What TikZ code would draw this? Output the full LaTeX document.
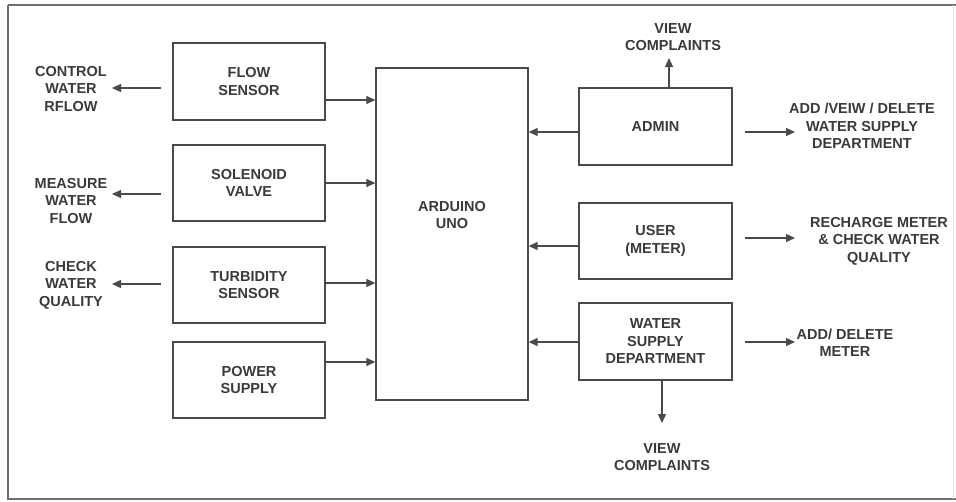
\documentclass[tikz,border=0pt]{standalone}
\usepackage{fontspec}
\setmainfont{Liberation Sans}
\usetikzlibrary{arrows.meta}
\definecolor{ink}{HTML}{3A3A3A}
\definecolor{linec}{HTML}{4A4A4A}
\tikzset{
  blk/.style={draw=linec, line width=1.3pt, minimum width=152pt, minimum height=77pt, inner sep=0pt},
  txt/.style={font=\fontsize{14.5}{17.5}\selectfont\bfseries, text=ink, align=center, inner sep=0pt},
  arr/.style={draw=linec, line width=1.2pt, -{Triangle[length=9pt,width=8pt]}},
}
\begin{document}
\begin{tikzpicture}[x=1pt, y=-1pt]
\useasboundingbox (0,0) rectangle (956,501);
\draw[draw=linec!80, line width=1.5pt] (8,5) -- (956,5);
\draw[draw=linec!80, line width=1.5pt] (8,5) -- (8,499) -- (956,499);
\draw[draw=linec!15, line width=1pt] (953,5) -- (953,499);

% left boxes
\node[blk, txt, minimum width=152pt] (flow) at (249,81.5) {FLOW\\SENSOR};
\node[blk, txt, minimum width=152pt, minimum height=76pt] (sol) at (249,183) {SOLENOID\\VALVE};
\node[blk, txt, minimum width=152pt, minimum height=76pt] (turb) at (249,285) {TURBIDITY\\SENSOR};
\node[blk, txt, minimum width=152pt, minimum height=76pt] (pow) at (249,380) {POWER\\SUPPLY};

% arduino
\node[blk, minimum width=152pt, minimum height=332pt] (ard) at (452,234) {};
\node[txt] (ardtxt) at (452,215) {ARDUINO\\UNO};

% right boxes
\node[blk, txt, minimum width=153pt] (admin) at (655.5,126.5) {ADMIN};
\node[blk, txt, minimum width=153pt, minimum height=76pt] (user) at (655.5,241) {USER\\(METER)};
\node[blk, txt, minimum width=153pt] (wsd) at (655.5,341.5) {WATER\\SUPPLY\\DEPARTMENT};

% helper y levels
\coordinate (y100) at (0,100);
\coordinate (y183) at (0,183);
\coordinate (y283) at (0,283);
\coordinate (y362) at (0,362);
\coordinate (y132) at (0,132);
\coordinate (y246) at (0,246);
\coordinate (y342) at (0,342);

% left boxes -> arduino
\draw[arr] (flow.east |- y100) -- (ard.west |- y100);
\draw[arr] (sol.east |- y183) -- (ard.west |- y183);
\draw[arr] (turb.east |- y283) -- (ard.west |- y283);
\draw[arr] (pow.east |- y362) -- (ard.west |- y362);

% right boxes -> arduino
\draw[arr] (admin.west |- y132) -- (ard.east |- y132);
\draw[arr] (user.west |- y246) -- (ard.east |- y246);
\draw[arr] (wsd.west |- y342) -- (ard.east |- y342);

% left labels
\node[txt] (ctrl) at (71,89) {CONTROL\\WATER\\RFLOW};
\node[txt] (meas) at (71,201) {MEASURE\\WATER\\FLOW};
\node[txt] (chk) at (71,285) {CHECK\\WATER\\QUALITY};
\coordinate (l1s) at (161,88);  \coordinate (l1e) at (112,88);
\coordinate (l2s) at (161,194); \coordinate (l2e) at (112,194);
\coordinate (l3s) at (161,284); \coordinate (l3e) at (112,284);
\draw[arr] (l1s) -- (l1e);
\draw[arr] (l2s) -- (l2e);
\draw[arr] (l3s) -- (l3e);

% admin outputs
\node[txt] (vc1) at (673,37) {VIEW\\COMPLAINTS};
\coordinate (a1s) at (669,88); \coordinate (a1e) at (669,58);
\draw[arr] (admin.north -| a1s) -- (a1e);
\node[txt] (addv) at (862,126) {ADD /VEIW / DELETE\\WATER SUPPLY\\DEPARTMENT};
\coordinate (a2s) at (745,132); \coordinate (a2e) at (795,132);
\draw[arr] (a2s) -- (a2e);

% user output
\node[txt] (rech) at (879,241) {RECHARGE METER\\\&\ CHECK WATER\\QUALITY};
\coordinate (u1s) at (745,238); \coordinate (u1e) at (795,238);
\draw[arr] (u1s) -- (u1e);

% wsd outputs
\node[txt] (addd) at (845,342.5) {ADD/ DELETE\\METER};
\coordinate (w1s) at (745,342); \coordinate (w1e) at (795,342);
\draw[arr] (w1s) -- (w1e);
\coordinate (w2s) at (662,380); \coordinate (w2e) at (662,423);
\draw[arr] (wsd.south -| w2s) -- (w2e);
\node[txt] (vc2) at (662,457) {VIEW\\COMPLAINTS};
\end{tikzpicture}
\end{document}
